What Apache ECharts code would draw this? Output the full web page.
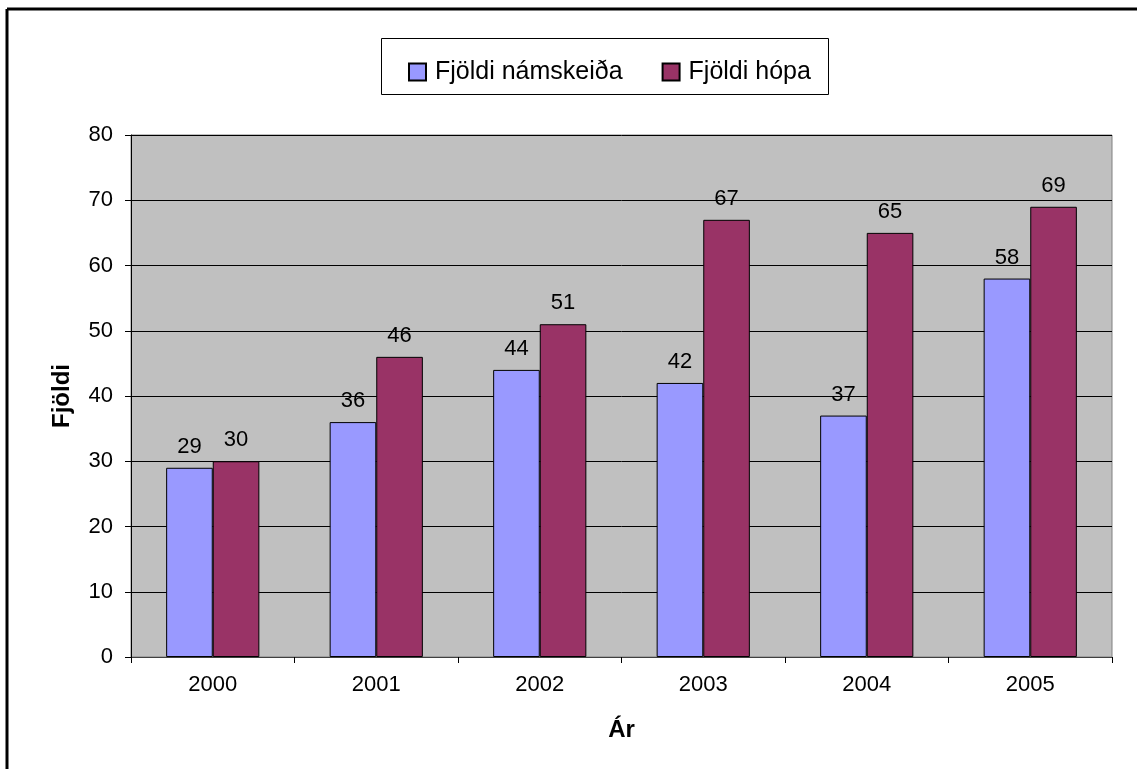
<!DOCTYPE html>
<html>
<head>
<meta charset="utf-8">
<script src="https://cdn.jsdelivr.net/npm/echarts@6/dist/echarts.min.js"></script>
<style>
html,body{margin:0;padding:0;background:#fff;}
#c{width:1137px;height:769px;}
</style>
</head>
<body>
<div id="c"></div>
<script>
const categories = ['2000','2001','2002','2003','2004','2005'];
const namskeid = [29,36,44,42,37,58];
const hopar = [30,46,51,67,65,69];
const seriesNames = ['Fjöldi námskeiða','Fjöldi hópa'];
const yTicks = [0,10,20,30,40,50,60,70,80];

const FONT = '"Liberation Sans", Arial, sans-serif';
const chart = echarts.init(document.getElementById('c'), null, {renderer:'canvas'});
const labelStyle = {show:true, position:'top', distance:10, color:'#000', fontFamily:FONT, fontSize:22};
chart.setOption({
  animation:false,
  backgroundColor:'#fff',
  textStyle:{fontFamily:FONT},
  graphic:[
    {type:'line', shape:{x1:7, y1:9, x2:1137, y2:9}, style:{stroke:'#000', lineWidth:3}},
    {type:'line', shape:{x1:7, y1:9, x2:7, y2:769}, style:{stroke:'#000', lineWidth:3}},
    {type:'rect', shape:{x:381.5, y:38.5, width:447, height:56}, style:{fill:'#fff', stroke:'#000', lineWidth:1}, z:-1}
  ],
  legend:{
    left:403, top:54,
    itemWidth:17, itemHeight:17, itemGap:39,
    icon:'rect',
    textStyle:{fontFamily:FONT, fontSize:25, color:'#000', lineHeight:26, padding:[0,0,0,4]},
    data:seriesNames
  },
  grid:{left:131, top:135, width:981, height:522, show:true, backgroundColor:'#C0C0C0', borderColor:'#808080', borderWidth:1, containLabel:false},
  xAxis:{
    type:'category', data:categories,
    name:'Ár', nameLocation:'middle', nameGap:61,
    nameTextStyle:{fontFamily:FONT, fontSize:24, fontWeight:'bold', color:'#000'},
    axisLine:{show:true, lineStyle:{color:'#404040', width:1}},
    axisTick:{show:true, alignWithLabel:false, length:6, lineStyle:{color:'#000'}},
    axisLabel:{color:'#000', fontFamily:FONT, fontSize:22, margin:17}
  },
  yAxis:{
    type:'value', min:0, max:80, interval:10,
    name:'Fjöldi', nameLocation:'middle', nameGap:57, nameRotate:90,
    nameTextStyle:{fontFamily:FONT, fontSize:24, fontWeight:'bold', color:'#000'},
    axisLine:{show:true, lineStyle:{color:'#000', width:1}},
    axisTick:{show:true, length:6, lineStyle:{color:'#000'}},
    axisLabel:{color:'#000', fontFamily:FONT, fontSize:22, margin:18,
      formatter:function(v){return yTicks.indexOf(v)>=0 ? String(v) : '';}},
    splitLine:{show:true, lineStyle:{color:'#000', width:1}}
  },
  series:[
    {name:seriesNames[0], type:'bar', data:namskeid, barGap:'0%', barCategoryGap:'43%',
     itemStyle:{color:'#9999FF', borderColor:'#000', borderWidth:1}, label:labelStyle},
    {name:seriesNames[1], type:'bar', data:hopar, barGap:'0%', barCategoryGap:'43%',
     itemStyle:{color:'#993366', borderColor:'#000', borderWidth:1}, label:labelStyle}
  ]
});
</script>
</body>
</html>
